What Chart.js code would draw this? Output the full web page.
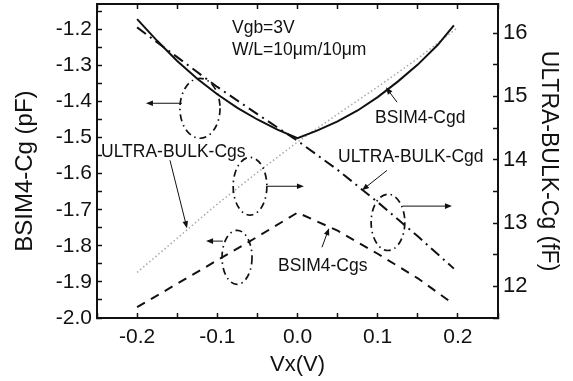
<!DOCTYPE html>
<html>
<head>
<meta charset="utf-8">
<script src="https://cdn.jsdelivr.net/npm/chart.js@4/dist/chart.umd.min.js"></script>
<style>
  html, body { margin: 0; padding: 0; background: #fff; }
  #wrap { width: 573px; height: 381px; }
</style>
</head>
<body>
<div id="wrap"><canvas id="c" width="573" height="381"></canvas></div>
<script>
// Gate bias sweep Vx (V)
const vxFine   = [-0.2, -0.175, -0.15, -0.125, -0.1, -0.075, -0.05, -0.025, 0, 0.025, 0.05, 0.075, 0.1, 0.125, 0.15, 0.175, 0.195];
const vxCoarse = [-0.2, -0.15, -0.1, -0.05, 0, 0.05, 0.1, 0.15, 0.195];
const vxFull   = [-0.2, -0.15, -0.1, -0.05, 0, 0.05, 0.1, 0.15, 0.2];

// BSIM4 capacitances (pF, left axis)
const bsimCgd = [-1.172, -1.232, -1.288, -1.337, -1.380, -1.418, -1.450, -1.478, -1.502, -1.480, -1.455, -1.425, -1.388, -1.345, -1.298, -1.243, -1.189];
const bsimCgs = [-1.970, -1.905, -1.840, -1.775, -1.708, -1.758, -1.822, -1.890, -1.962];

// ULTRA-BULK capacitances (fF, right axis)
const ubCgd = [16.09, 15.62, 15.15, 14.72, 14.30, 13.84, 13.33, 12.79, 12.28];
const ubCgs = [12.22, 12.76, 13.30, 13.80, 14.28, 14.72, 15.15, 15.60, 16.09];

// Axis ranges and labels
const xRange  = [-0.25, 0.25];
const yLeftRange  = [-2.0, -1.13];
const yRightRange = [11.5, 16.46];
const xTitle = 'Vx(V)';
const yLeftTitle = 'BSIM4-Cg (pF)';
const yRightTitle = 'ULTRA-BULK-Cg (fF)';
// level (pF) at which the left axis title is centred
const yLeftTitleAt = -1.593;

// Text notes
const noteText = ['Vgb=3V', 'W/L=10\u03bcm/10\u03bcm', 'ULTRA-BULK-Cgs', 'BSIM4-Cgd', 'ULTRA-BULK-Cgd', 'BSIM4-Cgs'];
// note anchors: [x (V), y (pF)] of the left end of the baseline
const noteAt = [[-0.0817, -1.211], [-0.0817, -1.272], [-0.245, -1.555], [0.0966, -1.460], [0.0505, -1.568], [-0.0243, -1.870]];
// leader lines from a label to its curve: [x0, y0, x1, y1], arrow at the curve end
const leaders = [[-0.159, -1.563, -0.1378, -1.751], [0.1241, -1.402, 0.1103, -1.361], [0.1116, -1.591, 0.0804, -1.646], [0.0305, -1.804, 0.0393, -1.751]];
// ovals marking curve groups: centre, radii, and arrow towards the axis they belong to
const ovals = [
  { cx: -0.1216, cy: -1.419, rx: 0.025, ry: 0.083, arrow: [-0.144, -0.189, -1.405] },
  { cx: -0.0592, cy: -1.635, rx: 0.021, ry: 0.080, arrow: [-0.039, 0.008, -1.635] },
  { cx: -0.0754, cy: -1.832, rx: 0.0187, ry: 0.075, arrow: [-0.093, -0.114, -1.787] },
  { cx: 0.1128, cy: -1.735, rx: 0.021, ry: 0.078, arrow: [0.1315, 0.1926, -1.690] }
];

const FONT = "'Liberation Sans', Arial, Helvetica, sans-serif";
const INK = '#111';
Chart.defaults.color = INK;
Chart.defaults.font.family = FONT;

const pts = (xs, ys) => xs.map((x, i) => ({ x, y: ys[i] }));
const isMajor = (v, step) => Math.abs(Math.round(v / step) * step - v) < 1e-6;
const fmt1 = v => (Math.round(v * 10) / 10 + 0).toFixed(1);

function arrowLine(ctx, x0, y0, x1, y1) {
  const a = Math.atan2(y1 - y0, x1 - x0);
  const L = 7, W = 2.8;
  ctx.beginPath();
  ctx.moveTo(x0, y0);
  ctx.lineTo(x1 - Math.cos(a) * L * 0.8, y1 - Math.sin(a) * L * 0.8);
  ctx.stroke();
  ctx.beginPath();
  ctx.moveTo(x1, y1);
  ctx.lineTo(x1 - Math.cos(a) * L - Math.sin(a) * W, y1 - Math.sin(a) * L + Math.cos(a) * W);
  ctx.lineTo(x1 - Math.cos(a) * L + Math.sin(a) * W, y1 - Math.sin(a) * L - Math.cos(a) * W);
  ctx.closePath();
  ctx.fill();
}

const notesPlugin = {
  id: 'notes',
  afterDatasetsDraw(chart) {
    const { ctx } = chart;
    const xs = chart.scales.x, ys = chart.scales.y;
    const X = v => xs.getPixelForValue(v);
    const Y = v => ys.getPixelForValue(v);
    ctx.save();
    ctx.strokeStyle = INK;
    ctx.fillStyle = INK;

    // dash-dot ovals
    ctx.lineWidth = 1.7;
    ctx.setLineDash([7, 4, 1.5, 4]);
    ovals.forEach(o => {
      ctx.beginPath();
      ctx.ellipse(X(o.cx), Y(o.cy),
        Math.abs(X(o.cx + o.rx) - X(o.cx)), Math.abs(Y(o.cy + o.ry) - Y(o.cy)),
        0, 0, Math.PI * 2);
      ctx.stroke();
    });
    ctx.setLineDash([]);

    // axis arrows and leader lines
    ctx.lineWidth = 1;
    ovals.forEach(o => arrowLine(ctx, X(o.arrow[0]), Y(o.arrow[2]), X(o.arrow[1]), Y(o.arrow[2])));
    leaders.forEach(l => arrowLine(ctx, X(l[0]), Y(l[1]), X(l[2]), Y(l[3])));

    // labels
    ctx.font = '17.5px ' + FONT;
    ctx.textAlign = 'left';
    ctx.textBaseline = 'alphabetic';
    noteText.forEach((t, i) => ctx.fillText(t, X(noteAt[i][0]), Y(noteAt[i][1])));

    // left axis title, rotated, centred on its own level
    ctx.font = '24px ' + FONT;
    ctx.textAlign = 'center';
    ctx.textBaseline = 'middle';
    ctx.translate(ys.left + 25, Y(yLeftTitleAt));
    ctx.rotate(-Math.PI / 2);
    ctx.fillText(yLeftTitle, 0, 0);
    ctx.restore();
  }
};

const tickGrid = { drawOnChartArea: false, tickLength: -5, tickWidth: 1.5, tickColor: INK };
const frame = { display: true, color: INK, width: 2 };
// fixed axis box sizes, no extra room for overhanging tick labels
const fixH = h => s => { s.height = h; s.paddingLeft = 0; s.paddingRight = 0; };
const fixW = w => s => { s.width = w; s.paddingTop = 0; s.paddingBottom = 0; };

new Chart(document.getElementById('c'), {
  type: 'line',
  data: {
    datasets: [
      { label: 'BSIM4-Cgd', data: pts(vxFine, bsimCgd), yAxisID: 'y', borderColor: INK, borderWidth: 2, pointRadius: 0, tension: 0, fill: false },
      { label: 'BSIM4-Cgs', data: pts(vxCoarse, bsimCgs), yAxisID: 'y', borderColor: INK, borderWidth: 2, borderDash: [9, 7], pointRadius: 0, tension: 0, fill: false },
      { label: 'ULTRA-BULK-Cgd', data: pts(vxCoarse, ubCgd), yAxisID: 'y2', borderColor: INK, borderWidth: 2, borderDash: [11, 5, 2, 5], pointRadius: 0, tension: 0, fill: false },
      { label: 'ULTRA-BULK-Cgs', data: pts(vxFull, ubCgs), yAxisID: 'y2', borderColor: '#a8a8a8', borderWidth: 1.5, borderDash: [1.5, 2.5], pointRadius: 0, tension: 0, fill: false }
    ]
  },
  options: {
    responsive: false,
    animation: false,
    devicePixelRatio: 1,
    layout: { padding: 0 },
    plugins: { legend: { display: false }, tooltip: { enabled: false } },
    scales: {
      x: {
        type: 'linear', position: 'bottom', min: xRange[0], max: xRange[1],
        ticks: { stepSize: 0.05, includeBounds: false, autoSkip: false, maxRotation: 0, padding: 12,
                 font: { size: 21 }, callback: v => isMajor(v, 0.1) ? fmt1(v) : '' },
        grid: tickGrid, border: frame,
        title: { display: true, text: xTitle, font: { size: 22 }, padding: { top: 0, bottom: 3 } },
        afterFit: fixH(63)
      },
      xTop: {
        type: 'linear', position: 'top', min: xRange[0], max: xRange[1],
        ticks: { display: false, stepSize: 0.05, includeBounds: false, autoSkip: false },
        grid: tickGrid, border: frame,
        afterFit: fixH(4)
      },
      y: {
        type: 'linear', position: 'left', min: yLeftRange[0], max: yLeftRange[1],
        ticks: { stepSize: 0.05, includeBounds: false, autoSkip: false, padding: 10,
                 font: { size: 21 }, callback: v => isMajor(v, 0.1) ? fmt1(v) : '' },
        grid: tickGrid, border: frame,
        title: { display: false, text: yLeftTitle },
        afterFit: fixW(97)
      },
      y2: {
        type: 'linear', position: 'right', min: yRightRange[0], max: yRightRange[1],
        ticks: { stepSize: 0.5, includeBounds: false, autoSkip: false, padding: 10,
                 font: { size: 22 }, callback: v => isMajor(v, 1) ? String(Math.round(v)) : '' },
        grid: tickGrid, border: frame,
        title: { display: true, text: yRightTitle, font: { size: 23 }, padding: { top: 11, bottom: 0 } },
        afterFit: fixW(75)
      }
    }
  },
  plugins: [notesPlugin]
});
</script>
</body>
</html>
